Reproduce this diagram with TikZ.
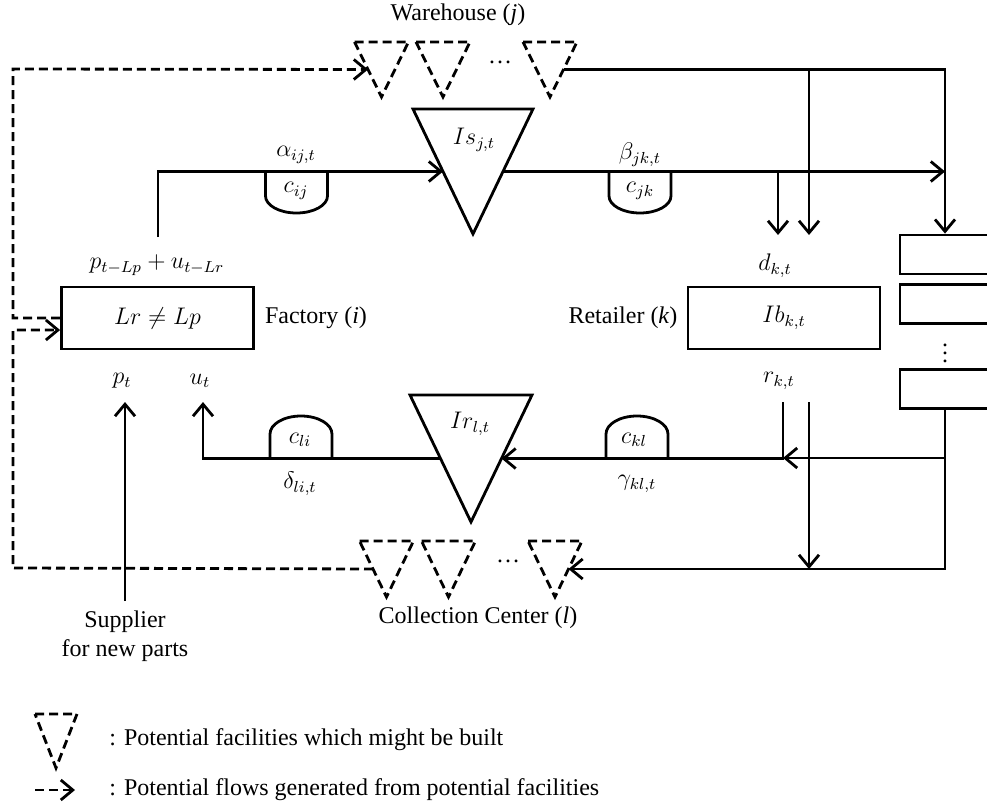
\documentclass[tikz,border=0pt,12pt]{standalone}
\usepackage{fontspec}
\setmainfont{Liberation Serif}
\usetikzlibrary{arrows.meta,calc}

\newcommand{\facility}[5][]{%
  \draw[#1] ($(#3)+(-#4,0)$) coordinate (#2-nw) -- ($(#3)+(#4,0)$) coordinate (#2-ne)
    -- ($(#3)+(0,#5)$) coordinate (#2-s) -- cycle;
  \coordinate (#2-w) at ($(#2-nw)!0.5!(#2-s)$);
  \coordinate (#2-e) at ($(#2-ne)!0.5!(#2-s)$);
}
\newcommand{\costdown}[2]{%
  \draw ($(#2)+(-31,0)$) coordinate (#1-l) -- ++(0,24)
    arc[start angle=180,end angle=360,x radius=15.5pt,y radius=8.5pt] -- ($(#2)+(31,0)$);
}
\newcommand{\costup}[2]{%
  \draw ($(#2)+(-31,0)$) coordinate (#1-l) -- ++(0,-24)
    arc[start angle=180,end angle=0,x radius=15.5pt,y radius=9pt] -- ($(#2)+(31,0)$);
}

\begin{document}
\begin{tikzpicture}[x=0.5pt, y=-0.5pt, line width=1.4pt,
>={Straight Barb[length=6pt,width=10pt]},
potential/.style={dash pattern=on 4.5pt off 2.5pt},
stage/.style={draw, minimum width=96pt, minimum height=31pt, inner sep=0pt},
client/.style={draw, minimum width=45pt, minimum height=19.5pt, inner sep=0pt}]
\useasboundingbox (0,0) rectangle (987,803);
\clip (0,0) rectangle (987,803);

\node[stage] (fac) at (157.5,318) {$Lr \neq Lp$};
\node[stage] (ret) at (784,318) {$Ib_{k,t}$};
\node[client] (cust1) at (945,254.5) {};
\node[client] (cust2) at (945,304) {};
\node[client] (cust3) at (945,389) {};
\node[inner sep=0pt] (custDots) at (945,347) {$\vdots$};

\facility[potential]{wh1}{381.5,42}{27}{55}
\facility[potential]{wh2}{443,42}{27}{55}
\facility[potential]{wh3}{550,42}{27}{55}
\facility{Is}{473,109}{60}{125}
\facility{Ir}{471,395}{61}{127}
\facility[potential]{cc1}{386.5,541}{27}{56}
\facility[potential]{cc2}{448.5,541}{27}{56}
\facility[potential]{cc3}{555,541}{27}{56}
\costdown{cij}{296.5,172}
\costdown{cjk}{640,172}
\costup{cli}{301,458}
\costup{ckl}{637,458}

\node (whLbl) at (458,15) {Warehouse (\textit{j})};
\node (whDots) at (500,62) {\dots};
\node (IsLbl) at (474,140) {$Is_{j,t}$};
\node (aLbl) at (296,155) {$\alpha_{ij,t}$};
\node (cijLbl) at (296,191) {$c_{ij}$};
\node (bLbl) at (640,155) {$\beta_{jk,t}$};
\node (cjkLbl) at (640,191) {$c_{jk}$};
\node (prodLbl) at (157,265) {$p_{t-Lp}+u_{t-Lr}$};
\node (dLbl) at (775,266) {$d_{k,t}$};
\node (facLbl) at (316,318) {Factory (\textit{i})};
\node (retLbl) at (623,318) {Retailer (\textit{k})};
\node (pLbl) at (122,381) {$p_t$};
\node (uLbl) at (200,381) {$u_t$};
\node (rLbl) at (779,381) {$r_{k,t}$};
\node (IrLbl) at (470,424) {$Ir_{l,t}$};
\node (cliLbl) at (300,440) {$c_{li}$};
\node (dlLbl) at (300,484) {$\delta_{li,t}$};
\node (cklLbl) at (634,440) {$c_{kl}$};
\node (gLbl) at (637,484) {$\gamma_{kl,t}$};
\node (ccDots) at (508,561) {\dots};
\node (ccLbl) at (478,618) {Collection Center (\textit{l})};
\node[align=center, anchor=north] (sup) at (125,601) {Supplier\\for new parts};

\coordinate (dl1) at (13,69);
\coordinate (dl2) at (13,568);
\coordinate (aStart) at (158,237);
\coordinate (dk1) at (778,235);
\coordinate (dk2) at (809,235);
\coordinate (rk1) at (783,402);
\coordinate (rk2) at (809,402);
\coordinate (rj) at (783,458);
\coordinate (ut) at (203,402);
\coordinate (pt) at (125,402);

\draw[potential,->] (fac.west) -| (dl1) -- (wh1-w);
\draw[potential,->] (cc1-w) -- (dl2) |- ([yshift=-6pt]fac.west);
\draw[->] (aStart) |- (Is-w);
\draw[->] (Is-e) -- (Is-e -| cust1.north);
\draw[->] (wh3-e) -- (wh3-e -| cust1.north) -- (cust1.north);
\draw[->] (Is-e -| dk1) -- (dk1);
\draw[->] (wh3-e -| dk2) -- (dk2);
\draw[->] (cust3.south) -- (cust3.south |- cc3-e) -- (cc3-e);
\draw[->] (cust3.south |- rj) -- (rj);
\draw[->] (rk1) |- (Ir-e);
\draw[->] (rk2) -- (rk2 |- cc3-e);
\draw[->] (Ir-w) -| (ut);
\draw[->] (sup.north) -- (pt);

\facility[potential]{leg}{56,714}{21}{54}
\node[anchor=west] (legTxt1) at (100,740) {: Potential facilities which might be built};
\coordinate (legA) at (35,790);
\coordinate (legB) at (75,790);
\draw[potential,->] (legA) -- (legB);
\node[anchor=west] (legTxt2) at (100,790) {: Potential flows generated from potential facilities};
\end{tikzpicture}
\end{document}
